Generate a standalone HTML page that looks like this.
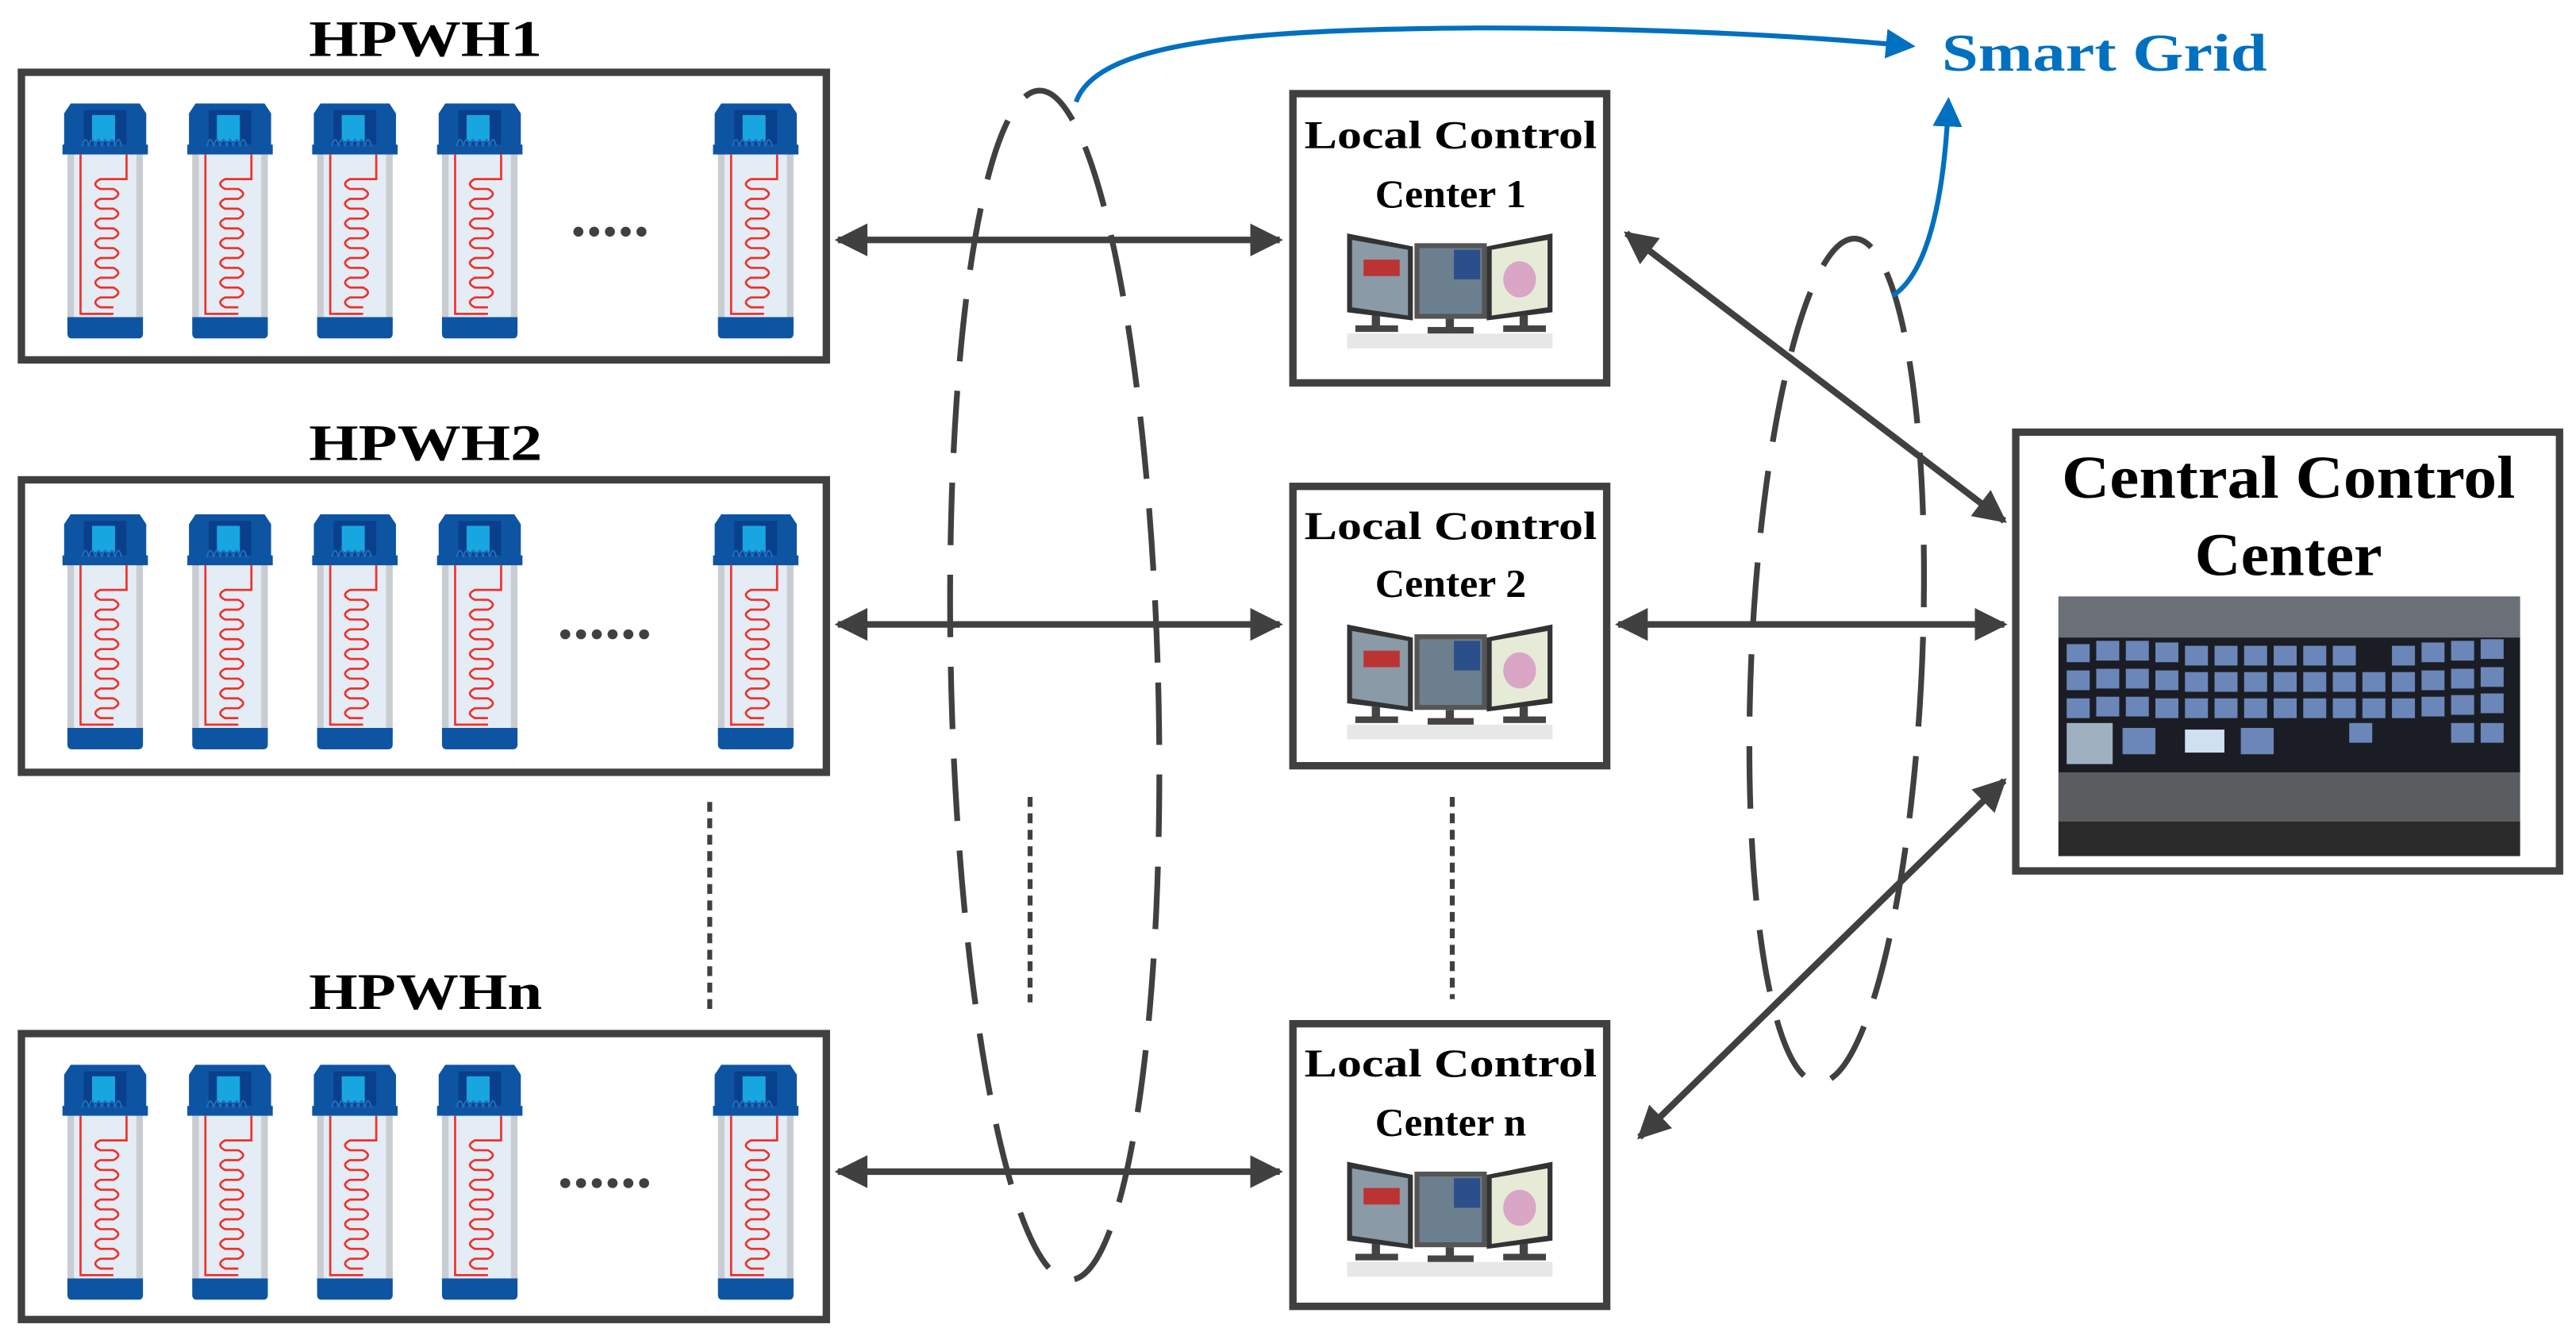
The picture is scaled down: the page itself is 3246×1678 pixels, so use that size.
<!DOCTYPE html>
<html><head><meta charset="utf-8"><style>
html,body{margin:0;padding:0;background:#fff;}
svg{display:block;}
text{font-family:"Liberation Serif","Times New Roman",serif;font-weight:bold;}
</style></head><body>
<svg width="3246" height="1678" viewBox="0 0 1568 810.6" xmlns="http://www.w3.org/2000/svg">
<defs>
<symbol id="h" viewBox="0 0 58 145" width="58" height="145">
  <rect x="6" y="28" width="46" height="112" rx="5" fill="#c9ccd1"/>
  <rect x="10" y="28" width="38" height="108" fill="#e4ecf5"/>
  <path d="M8 2 h42 l4 6 v24 h-50 v-24z" fill="#0d55a3"/>
  <rect x="16" y="6" width="26" height="22" fill="#0a3f8c"/>
  <rect x="21" y="9" width="14" height="16" fill="#18a6e0"/>
  <rect x="3" y="27" width="52" height="6" fill="#0d55a3"/>
  <path d="M15 28 q2 -8 4 0 q2 -8 4 0 q2 -8 4 0 q2 -8 4 0 q2 -8 4 0 q2 -8 4 0" fill="none" stroke="#1f6fc0" stroke-width="1"/>
  <path d="M14 33 V130 H34 M42 33 V48 H26 q-6 3 0 6 h8 q6 3 0 6 h-8 q-6 3 0 6 h8 q6 3 0 6 h-8 q-6 3 0 6 h8 q6 3 0 6 h-8 q-6 3 0 6 h8 q6 3 0 6 h-8 q-6 3 0 6 h8 q6 3 0 6 h-8 q-6 3 0 6 h8 q6 3 0 6 h-8 q-6 3 0 6 h8" fill="none" stroke="#f0302a" stroke-width="1.3"/>
  <path d="M6 132 h46 v10 q0 3 -3 3 h-40 q-3 0 -3 -3z" fill="#0d55a3"/>
</symbol>
<symbol id="m" viewBox="0 0 135 72" width="135" height="72">
  <polygon points="5,2 45,10 45,55 5,50" fill="#333"/>
  <polygon points="8,6 42,12 42,52 8,47" fill="#8a9aa6"/>
  <rect x="15" y="18" width="22" height="10" fill="#b33"/>
  <rect x="46" y="8" width="44" height="46" fill="#555"/>
  <rect x="49" y="11" width="38" height="40" fill="#6c7f8f"/>
  <rect x="70" y="12" width="16" height="18" fill="#2b4f8a"/>
  <polygon points="90,10 130,2 130,50 90,55" fill="#333"/>
  <polygon points="93,12 127,6 127,47 93,52" fill="#e6ebd8"/>
  <ellipse cx="110" cy="30" rx="10" ry="11" fill="#d9a6c6"/>
  <rect x="20" y="52" width="5" height="8" fill="#444"/><rect x="10" y="58" width="26" height="4" fill="#444"/>
  <rect x="65" y="54" width="5" height="7" fill="#444"/><rect x="54" y="59" width="28" height="4" fill="#444"/>
  <rect x="110" y="52" width="5" height="8" fill="#444"/><rect x="100" y="58" width="26" height="4" fill="#444"/>
  <rect x="5" y="63" width="125" height="9" fill="#ddd" opacity="0.7"/>
</symbol>
<marker id="a" markerWidth="5" markerHeight="5" refX="4.5" refY="2.5" orient="auto-start-reverse" markerUnits="strokeWidth"><path d="M0,0 L5,2.5 L0,5z" fill="#404040"/></marker>
<marker id="b" markerWidth="6" markerHeight="6" refX="5" refY="3" orient="auto" markerUnits="strokeWidth"><path d="M0,0 L6,3 L0,6z" fill="#0070c0"/></marker>
</defs>

<g fill="none" stroke="#404040" stroke-width="4.5">
<rect x="13" y="44" width="490" height="175"/>
<rect x="13" y="292" width="490" height="178"/>
<rect x="13" y="629" width="490" height="174"/>
<rect x="787" y="57" width="191" height="176"/>
<rect x="787" y="296" width="191" height="170"/>
<rect x="787" y="623" width="191" height="172"/>
<rect x="1227" y="263" width="331" height="267"/>
</g>
<g font-size="31" text-anchor="middle">
<text x="259" y="34" textLength="142" lengthAdjust="spacingAndGlyphs">HPWH1</text>
<text x="259" y="280" textLength="142" lengthAdjust="spacingAndGlyphs">HPWH2</text>
<text x="259" y="614" textLength="142" lengthAdjust="spacingAndGlyphs">HPWHn</text>
</g>
<g font-size="24" text-anchor="middle">
<text x="883" y="90" textLength="178" lengthAdjust="spacingAndGlyphs">Local Control</text>
<text x="883" y="126" textLength="92" lengthAdjust="spacingAndGlyphs">Center 1</text>
<text x="883" y="328" textLength="178" lengthAdjust="spacingAndGlyphs">Local Control</text>
<text x="883" y="363" textLength="92" lengthAdjust="spacingAndGlyphs">Center 2</text>
<text x="883" y="655" textLength="178" lengthAdjust="spacingAndGlyphs">Local Control</text>
<text x="883" y="691" textLength="92" lengthAdjust="spacingAndGlyphs">Center n</text>
</g>
<g font-size="37" text-anchor="middle">
<text x="1393" y="303" textLength="276" lengthAdjust="spacingAndGlyphs">Central Control</text>
<text x="1393" y="350" textLength="114" lengthAdjust="spacingAndGlyphs">Center</text>
</g>
<text x="1281" y="43" font-size="32" fill="#0070c0" text-anchor="middle" textLength="198" lengthAdjust="spacingAndGlyphs">Smart Grid</text>

<g>
<use href="#h" x="35" y="61"/><use href="#h" x="111" y="61"/><use href="#h" x="187" y="61"/><use href="#h" x="263" y="61"/><use href="#h" x="431" y="61"/>
<use href="#h" x="35" y="311"/><use href="#h" x="111" y="311"/><use href="#h" x="187" y="311"/><use href="#h" x="263" y="311"/><use href="#h" x="431" y="311"/>
<use href="#h" x="35" y="646"/><use href="#h" x="111" y="646"/><use href="#h" x="187" y="646"/><use href="#h" x="263" y="646"/><use href="#h" x="431" y="646"/>
</g>
<g stroke="#404040" stroke-width="6" stroke-dasharray="0.1 9.5" stroke-linecap="round">
<line x1="352" y1="141" x2="398" y2="141"/>
<line x1="344" y1="386" x2="395" y2="386"/>
<line x1="344" y1="720" x2="395" y2="720"/>
</g>
<g stroke="#404040" stroke-width="3" stroke-dasharray="6 4">
<line x1="432" y1="488" x2="432" y2="615"/>
<line x1="627" y1="485" x2="627" y2="610"/>
<line x1="884" y1="485" x2="884" y2="608"/>
</g>

<use href="#m" x="815" y="140"/>
<use href="#m" x="815" y="378"/>
<use href="#m" x="815" y="705"/>

<rect x="1253" y="363" width="281" height="158" fill="#1b1d24"/>
<rect x="1253" y="363" width="281" height="25" fill="#6a6f78"/>
<g fill="#6b86b8">
<rect x="1258" y="392" width="14" height="11"/><rect x="1276" y="390" width="14" height="12"/><rect x="1294" y="390" width="14" height="12"/><rect x="1312" y="391" width="14" height="12"/><rect x="1330" y="393" width="14" height="12"/><rect x="1348" y="393" width="14" height="12"/><rect x="1366" y="393" width="14" height="12"/><rect x="1384" y="393" width="14" height="12"/><rect x="1402" y="393" width="14" height="12"/><rect x="1420" y="393" width="14" height="12"/><rect x="1456" y="393" width="14" height="12"/><rect x="1474" y="391" width="14" height="12"/><rect x="1492" y="390" width="14" height="12"/><rect x="1510" y="389" width="14" height="12"/>
<rect x="1258" y="408" width="14" height="12"/><rect x="1276" y="407" width="14" height="12"/><rect x="1294" y="407" width="14" height="12"/><rect x="1312" y="408" width="14" height="12"/><rect x="1330" y="409" width="14" height="12"/><rect x="1348" y="409" width="14" height="12"/><rect x="1366" y="409" width="14" height="12"/><rect x="1384" y="409" width="14" height="12"/><rect x="1402" y="409" width="14" height="12"/><rect x="1420" y="409" width="14" height="12"/><rect x="1438" y="409" width="14" height="12"/><rect x="1456" y="409" width="14" height="12"/><rect x="1474" y="408" width="14" height="12"/><rect x="1492" y="407" width="14" height="12"/><rect x="1510" y="406" width="14" height="12"/>
<rect x="1258" y="425" width="14" height="12"/><rect x="1276" y="424" width="14" height="12"/><rect x="1294" y="424" width="14" height="12"/><rect x="1312" y="425" width="14" height="12"/><rect x="1330" y="425" width="14" height="12"/><rect x="1348" y="425" width="14" height="12"/><rect x="1366" y="425" width="14" height="12"/><rect x="1384" y="425" width="14" height="12"/><rect x="1402" y="425" width="14" height="12"/><rect x="1420" y="425" width="14" height="12"/><rect x="1438" y="425" width="14" height="12"/><rect x="1456" y="425" width="14" height="12"/><rect x="1474" y="424" width="14" height="12"/><rect x="1492" y="423" width="14" height="12"/><rect x="1510" y="422" width="14" height="12"/>
<rect x="1258" y="440" width="28" height="25" fill="#9fb0c0"/><rect x="1292" y="443" width="20" height="16"/><rect x="1330" y="444" width="24" height="14" fill="#cfe0f0"/><rect x="1364" y="443" width="20" height="16"/><rect x="1430" y="440" width="14" height="12"/><rect x="1492" y="440" width="14" height="12"/><rect x="1510" y="440" width="14" height="12"/>
</g>
<rect x="1253" y="470" width="281" height="30" fill="#5a5d60"/>
<rect x="1253" y="500" width="281" height="21" fill="#2a2a2a"/>

<g stroke="#404040" stroke-width="4" fill="none" marker-start="url(#a)" marker-end="url(#a)">
<line x1="510" y1="146" x2="779" y2="146"/>
<line x1="510" y1="380" x2="779" y2="380"/>
<line x1="510" y1="713" x2="779" y2="713"/>
<line x1="985" y1="380" x2="1220" y2="380"/>
<line x1="990" y1="142" x2="1220" y2="317"/>
<line x1="998" y1="692" x2="1220" y2="475"/>
</g>

<g fill="none" stroke="#404040" stroke-width="3.5" stroke-dasharray="38 18">
<ellipse cx="642" cy="417" rx="63" ry="362" transform="rotate(-1.5 642 417)"/>
<ellipse cx="1118" cy="402" rx="52" ry="257" transform="rotate(2.5 1118 402)"/>
</g>

<g stroke="#0070c0" stroke-width="3" fill="none" marker-end="url(#b)">
<path d="M655 62 C668 25 760 18 900 17 C1010 17 1100 22 1163 28"/>
<path d="M1152 180 C1176 165 1184 110 1186 62"/>
</g>
</svg>
</body></html>
